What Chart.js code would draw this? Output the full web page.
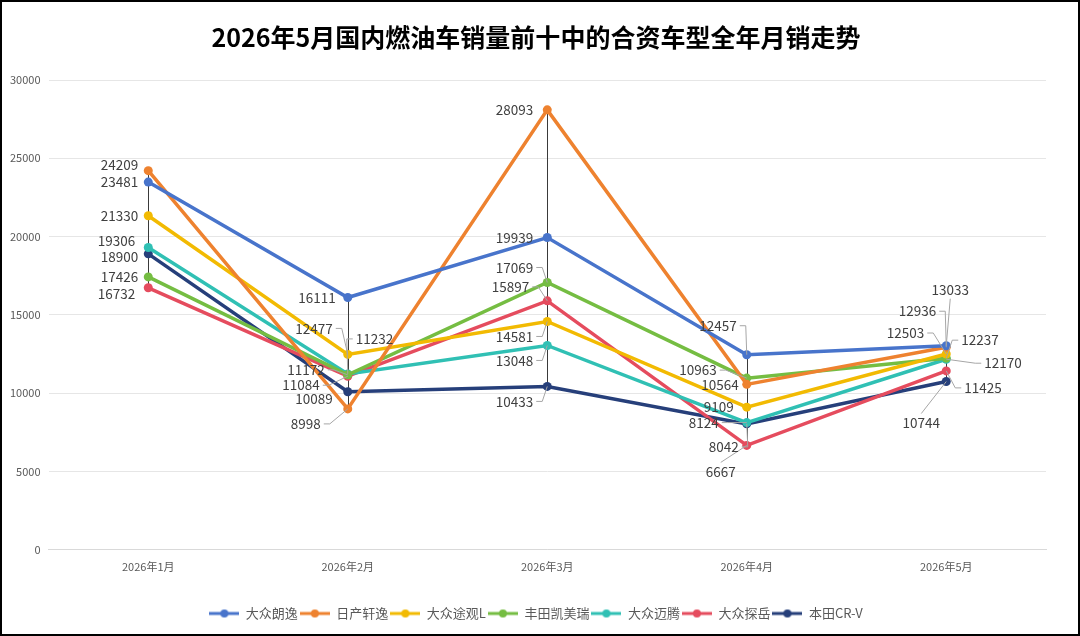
<!DOCTYPE html>
<html>
<head>
<meta charset="utf-8">
<script src="https://cdn.jsdelivr.net/npm/chart.js@4/dist/chart.umd.min.js"></script>
<style>
  html, body { margin: 0; padding: 0; background: #fff; }
  #wrap { width: 1080px; height: 636px; box-sizing: border-box; border: 2px solid #000; position: relative; }
  canvas { display: block; }
</style>
</head>
<body>
<div id="wrap"><canvas id="salesChart" width="1076" height="632"></canvas></div>
<script>
const months = ["2026年1月", "2026年2月", "2026年3月", "2026年4月", "2026年5月"];
const seriesNames = ["大众朗逸", "日产轩逸", "大众途观L", "丰田凯美瑞", "大众迈腾", "大众探岳", "本田CR-V"];

const lavida = [23481, 16111, 19939, 12457, 13033];
const sylphy = [24209, 8998, 28093, 10564, 12936];
const tiguanL = [21330, 12477, 14581, 9109, 12503];
const camry = [17426, 11172, 17069, 10963, 12237];
const magotan = [19306, 11232, 13048, 8124, 12170];
const tayron = [16732, 11084, 15897, 6667, 11425];
const crv = [18900, 10089, 10433, 8042, 10744];

const yTicks = [0, 5000, 10000, 15000, 20000, 25000, 30000];

const colors = ["#4874CB", "#EE822F", "#F2BA02", "#75BD42", "#30C0B4", "#E54C5E", "#263F7A"];

// label placement [dx, dy, align] relative to the point, per series per month
const labelPos = [
  [[-10, 0, "right"], [-12, 0, "right"], [-14, 0, "right"], [-10, -29, "right"], [4, -56, "center"]],
  [[-10, -6, "right"], [-27, 15, "right"], [-14, 0, "right"], [-8, 1, "right"], [-10, -36, "right"]],
  [[-10, 0, "right"], [-15, -26, "right"], [-14, 15, "right"], [-13, 0, "right"], [-22, -21, "right"]],
  [[-10, 0, "right"], [-23, -5, "right"], [-14, -15, "right"], [-30, -8, "right"], [15, -18, "left"]],
  [[-13, -7, "right"], [8, -35, "left"], [-14, 15, "right"], [-28, 0, "right"], [38, 4, "left"]],
  [[-13, 6, "right"], [-28, 9, "right"], [-18, -14, "right"], [-26, 26, "center"], [18, 17, "left"]],
  [[-10, 3, "right"], [-15, 7, "right"], [-14, 15, "right"], [-8, 23, "right"], [-25, 41, "center"]],
];

const FONT = "'Noto Sans CJK SC', 'Noto Sans', sans-serif";

const allSeries = [lavida, sylphy, tiguanL, camry, magotan, tayron, crv];

const makeDatasets = () => {
  return allSeries.map((vals, i) => ({
    label: seriesNames[i],
    data: vals,
    borderColor: colors[i],
    backgroundColor: colors[i],
    borderWidth: 3.5,
    pointRadius: 4.5,
    pointHoverRadius: 4.5,
    pointBorderWidth: 0,
    tension: 0,
    fill: false,
  }));
};

// little line+dot swatches for the legend
const legendIcon = (color) => {
  const c = document.createElement("canvas");
  c.width = 30;
  c.height = 10;
  const g = c.getContext("2d");
  g.strokeStyle = color;
  g.lineWidth = 3;
  g.beginPath();
  g.moveTo(0, 5);
  g.lineTo(30, 5);
  g.stroke();
  g.fillStyle = color;
  g.beginPath();
  g.arc(15, 5, 4, 0, Math.PI * 2);
  g.fill();
  return c;
};

const dropLines = {
  id: "dropLines",
  beforeDatasetsDraw(chart) {
    const ctx = chart.ctx;
    const yScale = chart.scales.y;
    ctx.save();
    ctx.strokeStyle = "#3a3a3a";
    ctx.lineWidth = 1;
    for (let j = 0; j < months.length; j++) {
      const vals = allSeries.map((s) => s[j]);
      const x = Math.round(chart.getDatasetMeta(0).data[j].x) + 0.5;
      ctx.beginPath();
      ctx.moveTo(x, yScale.getPixelForValue(Math.max(...vals)));
      ctx.lineTo(x, yScale.getPixelForValue(Math.min(...vals)));
      ctx.stroke();
    }
    ctx.restore();
  },
};

const valueLabels = {
  id: "valueLabels",
  afterDatasetsDraw(chart) {
    const ctx = chart.ctx;
    ctx.save();
    ctx.font = "13.5px " + FONT;
    ctx.textBaseline = "middle";
    chart.data.datasets.forEach((ds, i) => {
      const meta = chart.getDatasetMeta(i);
      meta.data.forEach((pt, j) => {
        const [dx, dy, align] = labelPos[i][j];
        const lx = pt.x + dx;
        const ly = pt.y + dy;
        const text = String(ds.data[j]);
        // leader line
        if (Math.abs(dy) >= 10 || Math.abs(dx) >= 20) {
          ctx.strokeStyle = "#a6a6a6";
          ctx.lineWidth = 1;
          ctx.beginPath();
          if (align === "right") {
            ctx.moveTo(lx + 3, ly);
            ctx.lineTo(lx + 9, ly);
          } else if (align === "left") {
            ctx.moveTo(lx - 3, ly);
            ctx.lineTo(lx - 9, ly);
          } else {
            const ey = dy < 0 ? ly + 9 : ly - 9;
            ctx.moveTo(lx, ey);
          }
          ctx.lineTo(pt.x, pt.y);
          ctx.stroke();
        }
        ctx.fillStyle = "#404040";
        ctx.textAlign = align;
        ctx.fillText(text, lx, ly);
      });
    });
    ctx.restore();
  },
};

const ctx = document.getElementById("salesChart").getContext("2d");
const chart = new Chart(ctx, {
  type: "line",
  data: {
    labels: months,
    datasets: makeDatasets(),
  },
  options: {
    responsive: false,
    animation: false,
    layout: {
      padding: { left: 0, right: 8, top: 4, bottom: 4 },
    },
    plugins: {
      title: {
        display: true,
        text: "2026年5月国内燃油车销量前十中的合资车型全年月销走势",
        color: "#000",
        font: { family: FONT, size: 25, weight: "bold" },
        padding: { top: 16, bottom: 28 },
      },
      legend: {
        position: "bottom",
        labels: {
          color: "#595959",
          font: { family: FONT, size: 13 },
          usePointStyle: true,
          pointStyleWidth: 30,
          boxHeight: 10,
          padding: 2,
          generateLabels: (c) =>
            c.data.datasets.map((ds, i) => ({
              text: ds.label,
              pointStyle: legendIcon(colors[i]),
              fillStyle: colors[i],
              strokeStyle: colors[i],
              lineWidth: 0,
              hidden: false,
              datasetIndex: i,
              fontColor: "#595959",
            })),
        },
      },
      tooltip: { enabled: false },
    },
    scales: {
      x: {
        offset: true,
        grid: { display: false },
        border: { display: true, color: "#d9d9d9" },
        ticks: {
          color: "#595959",
          font: { family: FONT, size: 11 },
          padding: 2,
        },
        afterFit: (axis) => {
          axis.height += 30;
        },
      },
      y: {
        min: yTicks[0],
        max: yTicks[yTicks.length - 1],
        afterBuildTicks: (axis) => {
          axis.ticks = yTicks.map((v) => ({ value: v }));
        },
        grid: { color: "#e6e6e6", drawTicks: false },
        border: { display: false },
        ticks: {
          color: "#595959",
          font: { family: FONT, size: 11 },
          padding: 8,
          callback: (v) => String(v),
        },
      },
      // empty right-hand axis, only keeps space on the right of the plot
      yRight: {
        position: "right",
        display: true,
        grid: { display: false },
        border: { display: false },
        ticks: { display: false },
        afterFit: (axis) => {
          axis.width = 24;
        },
      },
    },
  },
  plugins: [dropLines, valueLabels],
});
</script>
</body>
</html>
